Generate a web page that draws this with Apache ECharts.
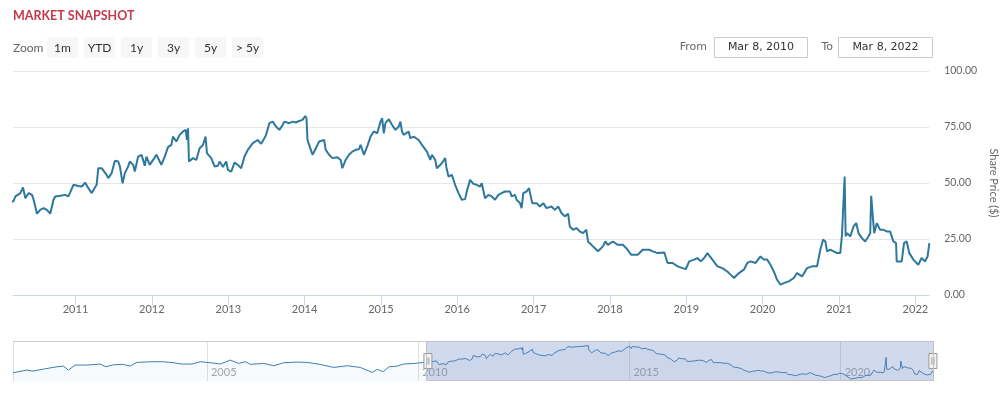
<!DOCTYPE html>
<html>
<head>
<meta charset="UTF-8">
<title>market snapshot</title>
<script src="https://cdn.jsdelivr.net/npm/echarts@6/dist/echarts.min.js"></script>
<style>
  html, body { margin: 0; padding: 0; background: #fff; }
  #chart { width: 1007px; height: 398px; }
</style>
</head>
<body>
<div id="chart"></div>
<script>
// older history, only visible in the navigator (dates as decimal years)
var histYears = [2000.41, 2000.73, 2000.88, 2001.13, 2001.45, 2001.60, 2001.72, 2001.88, 2002.16, 2002.47,
  2002.61, 2002.79, 2003.02, 2003.18, 2003.34, 2003.66, 2003.97, 2004.21, 2004.41, 2004.64,
  2004.84, 2005.08, 2005.32, 2005.55, 2005.75, 2005.91, 2006.03, 2006.34, 2006.58, 2006.82,
  2007.13, 2007.37, 2007.68, 2008.00, 2008.32, 2008.63, 2008.91, 2009.03, 2009.17, 2009.31,
  2009.50, 2009.65, 2009.92, 2010.12];
var histPrices = [18.3, 24.3, 22.0, 26.5, 31.7, 33.2, 24.3, 35.5, 35.5, 37.7,
  31.7, 36.2, 37.0, 33.2, 41.4, 42.9, 42.9, 40.7, 37.7, 37.7,
  42.9, 40.7, 37.7, 46.6, 39.2, 42.9, 37.0, 39.2, 34.0, 40.7,
  42.1, 41.4, 37.0, 30.2, 34.0, 30.2, 19.2, 25.9, 20.7, 31.7,
  33.2, 37.7, 39.2, 41.4];

// visible window Mar 2010 - Mar 2022
var years = [2010.186, 2010.212, 2010.277, 2010.312, 2010.343, 2010.386, 2010.430, 2010.451, 2010.495, 2010.538,
  2010.582, 2010.625, 2010.669, 2010.712, 2010.734, 2010.799, 2010.864, 2010.908, 2010.973, 2011.038,
  2011.082, 2011.125, 2011.169, 2011.212, 2011.277, 2011.299, 2011.343, 2011.408, 2011.430, 2011.473,
  2011.517, 2011.560, 2011.582, 2011.617, 2011.647, 2011.690, 2011.712, 2011.756, 2011.777, 2011.821,
  2011.864, 2011.886, 2011.908, 2011.930, 2011.973, 2012.017, 2012.060, 2012.104, 2012.125, 2012.169,
  2012.212, 2012.256, 2012.277, 2012.321, 2012.364, 2012.408, 2012.443, 2012.460, 2012.473, 2012.486,
  2012.538, 2012.582, 2012.625, 2012.669, 2012.703, 2012.721, 2012.777, 2012.821, 2012.864, 2012.886,
  2012.930, 2012.973, 2012.995, 2013.038, 2013.082, 2013.125, 2013.169, 2013.212, 2013.256, 2013.321,
  2013.386, 2013.430, 2013.473, 2013.495, 2013.538, 2013.582, 2013.625, 2013.669, 2013.712, 2013.734,
  2013.799, 2013.843, 2013.886, 2013.930, 2013.973, 2014.008, 2014.025, 2014.038, 2014.082, 2014.104,
  2014.147, 2014.191, 2014.256, 2014.277, 2014.321, 2014.364, 2014.430, 2014.473, 2014.495, 2014.538,
  2014.582, 2014.625, 2014.669, 2014.712, 2014.734, 2014.777, 2014.821, 2014.864, 2014.908, 2014.951,
  2014.995, 2015.017, 2015.038, 2015.060, 2015.104, 2015.147, 2015.191, 2015.234, 2015.256, 2015.277,
  2015.299, 2015.364, 2015.386, 2015.430, 2015.495, 2015.538, 2015.560, 2015.603, 2015.647, 2015.669,
  2015.712, 2015.734, 2015.799, 2015.843, 2015.856, 2015.886, 2015.930, 2015.973, 2016.017, 2016.060,
  2016.104, 2016.125, 2016.169, 2016.212, 2016.256, 2016.299, 2016.321, 2016.364, 2016.408, 2016.451,
  2016.495, 2016.538, 2016.581, 2016.625, 2016.690, 2016.712, 2016.755, 2016.777, 2016.821, 2016.842,
  2016.864, 2016.908, 2016.938, 2016.964, 2016.981, 2017.038, 2017.081, 2017.125, 2017.168, 2017.234,
  2017.277, 2017.321, 2017.364, 2017.408, 2017.451, 2017.473, 2017.516, 2017.560, 2017.603, 2017.647,
  2017.690, 2017.712, 2017.777, 2017.842, 2017.908, 2017.938, 2017.973, 2018.038, 2018.103, 2018.168,
  2018.212, 2018.277, 2018.364, 2018.429, 2018.516, 2018.560, 2018.625, 2018.712, 2018.734, 2018.755,
  2018.821, 2018.886, 2018.951, 2018.995, 2019.038, 2019.103, 2019.147, 2019.190, 2019.234, 2019.277,
  2019.342, 2019.408, 2019.473, 2019.538, 2019.581, 2019.625, 2019.690, 2019.755, 2019.799, 2019.842,
  2019.908, 2019.973, 2020.016, 2020.060, 2020.103, 2020.147, 2020.190, 2020.234, 2020.277, 2020.342,
  2020.408, 2020.451, 2020.516, 2020.581, 2020.647, 2020.712, 2020.755, 2020.790, 2020.821, 2020.842,
  2020.886, 2020.929, 2020.973, 2021.016, 2021.038, 2021.060, 2021.073, 2021.086, 2021.103, 2021.147,
  2021.190, 2021.225, 2021.255, 2021.299, 2021.342, 2021.386, 2021.408, 2021.421, 2021.442, 2021.460,
  2021.495, 2021.538, 2021.581, 2021.625, 2021.668, 2021.712, 2021.747, 2021.755, 2021.821, 2021.851,
  2021.886, 2021.921, 2021.973, 2022.038, 2022.081, 2022.125, 2022.160, 2022.183];
var prices = [41.8, 44.0, 45.5, 48.0, 43.2, 45.5, 44.7, 42.5, 36.3, 38.0,
  38.8, 38.0, 36.3, 42.5, 44.0, 44.3, 44.7, 44.0, 49.2, 48.7,
  48.4, 50.2, 47.7, 45.5, 49.2, 56.6, 56.6, 53.6, 52.2, 54.4,
  59.9, 59.6, 57.4, 49.9, 54.4, 57.4, 59.6, 58.1, 55.1, 61.8,
  62.6, 60.3, 57.7, 61.8, 58.1, 60.3, 62.6, 59.6, 58.1, 61.8,
  66.0, 67.0, 70.7, 68.5, 71.5, 73.0, 73.7, 69.2, 74.4, 59.6,
  61.1, 60.3, 65.5, 67.0, 70.7, 63.3, 61.1, 57.4, 57.7, 59.6,
  57.1, 59.6, 55.9, 55.1, 59.1, 58.1, 56.6, 61.8, 64.8, 67.8,
  69.2, 67.5, 70.0, 71.5, 76.7, 77.4, 75.2, 73.7, 75.9, 77.4,
  76.7, 77.4, 77.0, 77.7, 78.2, 79.9, 78.9, 69.2, 64.8, 62.6,
  65.5, 68.5, 69.2, 64.8, 62.6, 61.1, 61.5, 60.3, 56.6, 60.3,
  62.6, 64.0, 64.8, 65.1, 67.0, 62.6, 66.3, 70.7, 73.0, 72.2,
  77.4, 78.9, 72.2, 76.7, 78.5, 75.9, 73.7, 75.2, 77.4, 73.0,
  71.5, 73.0, 70.0, 70.7, 69.2, 67.0, 67.8, 64.0, 60.3, 62.6,
  60.3, 56.6, 58.8, 61.1, 57.4, 52.9, 53.6, 49.2, 45.5, 42.5,
  42.8, 46.2, 51.4, 49.6, 49.2, 48.4, 49.9, 43.2, 44.7, 44.0,
  42.5, 44.7, 45.5, 46.2, 46.2, 44.0, 44.7, 42.5, 41.0, 38.8,
  45.5, 46.2, 47.7, 47.0, 41.0, 41.0, 39.5, 41.0, 38.8, 39.5,
  38.0, 39.5, 36.6, 35.1, 36.3, 30.6, 29.1, 29.9, 28.4, 27.6,
  29.1, 23.9, 21.7, 19.5, 21.7, 23.9, 22.4, 23.9, 22.4, 22.4,
  21.0, 18.0, 18.0, 20.2, 20.2, 19.5, 18.7, 19.0, 18.7, 14.3,
  14.3, 12.8, 12.0, 11.6, 15.0, 15.8, 16.5, 15.0, 16.5, 18.7,
  15.8, 12.8, 12.0, 10.5, 9.1, 7.6, 9.8, 11.3, 14.3, 15.0,
  14.3, 17.2, 15.8, 15.8, 13.5, 10.5, 6.8, 4.6, 5.3, 6.1,
  7.6, 9.8, 8.3, 12.0, 12.8, 12.8, 20.2, 24.7, 23.9, 19.5,
  20.2, 19.5, 18.7, 18.7, 26.9, 27.6, 52.9, 26.2, 27.6, 26.2,
  30.6, 32.1, 27.6, 25.4, 23.9, 26.2, 27.6, 44.3, 35.1, 27.6,
  32.1, 29.1, 29.1, 28.4, 28.4, 23.9, 23.2, 15.0, 15.0, 23.2,
  23.9, 18.7, 15.8, 13.5, 16.5, 15.0, 17.2, 23.2];

var priceTicks = [0, 25, 50, 75, 100];
var zoomButtons = ['1m', 'YTD', '1y', '3y', '5y', '> 5y'];
var fromLabel = 'Mar 8, 2010';
var toLabel = 'Mar 8, 2022';
var windowStart = Date.UTC(2010, 2, 8);
var windowEnd = Date.UTC(2022, 2, 8);

function toTime(y) {
  var yr = Math.floor(y);
  var t0 = Date.UTC(yr, 0, 1), t1 = Date.UTC(yr + 1, 0, 1);
  return t0 + (y - yr) * (t1 - t0);
}
function yearLabel(v) { return String(new Date(v).getUTCFullYear()); }

var allYears = histYears.concat(years);
var allPrices = histPrices.concat(prices);
var seriesData = [];
for (var i = 0; i < allYears.length; i++) {
  seriesData.push([toTime(allYears[i]), allPrices[i]]);
}

// range selector row
var graphics = [];
graphics.push({ type: 'text', x: 13, y: 48, style: { text: 'Zoom', fill: '#666', font: '12px Lato', verticalAlign: 'middle' } });
for (var b = 0; b < zoomButtons.length; b++) {
  var bx = 47 + b * 37;
  graphics.push({ type: 'rect', shape: { x: bx, y: 37, width: 31, height: 21, r: 2 }, style: { fill: '#f7f7f7' } });
  graphics.push({ type: 'text', x: bx + 15.5, y: 48, style: { text: zoomButtons[b], fill: '#333', font: '12px Lato', align: 'center', verticalAlign: 'middle' } });
}
graphics.push({ type: 'text', x: 707, y: 47, style: { text: 'From', fill: '#666', font: '11px "DejaVu Sans"', align: 'right', verticalAlign: 'middle' } });
graphics.push({ type: 'rect', shape: { x: 714.5, y: 37.5, width: 93, height: 20 }, style: { fill: '#fff', stroke: '#cccccc', lineWidth: 1 } });
graphics.push({ type: 'text', x: 761, y: 47.5, style: { text: fromLabel, fill: '#333', font: '11px "DejaVu Sans"', align: 'center', verticalAlign: 'middle' } });
graphics.push({ type: 'text', x: 833, y: 47, style: { text: 'To', fill: '#666', font: '11px "DejaVu Sans"', align: 'right', verticalAlign: 'middle' } });
graphics.push({ type: 'rect', shape: { x: 838.5, y: 37.5, width: 94, height: 20 }, style: { fill: '#fff', stroke: '#cccccc', lineWidth: 1 } });
graphics.push({ type: 'text', x: 885.5, y: 47.5, style: { text: toLabel, fill: '#333', font: '11px "DejaVu Sans"', align: 'center', verticalAlign: 'middle' } });
graphics.push({ type: 'line', z: 100, shape: { x1: 13, y1: 341.5, x2: 933, y2: 341.5 }, style: { stroke: '#cccccc', lineWidth: 1 } });

var ONE_YEAR = 365 * 24 * 3600 * 1000;

var option = {
  animation: false,
  useUTC: true,
  backgroundColor: '#fff',
  textStyle: { fontFamily: 'Lato' },
  title: {
    text: 'MARKET SNAPSHOT',
    left: 13, top: 9, padding: 0,
    textStyle: { color: '#c23a4b', fontSize: 12.5, fontWeight: 'bold', fontFamily: 'Lato' }
  },
  graphic: graphics,
  grid: [
    { left: 13, right: 74, top: 71, height: 224 },
    { left: 13, right: 74, top: 341, height: 40 }
  ],
  xAxis: [
    {
      type: 'time', gridIndex: 0,
      minInterval: ONE_YEAR, maxInterval: ONE_YEAR * 1.02,
      axisLine: { lineStyle: { color: '#ccd6eb' } },
      axisTick: { length: 10, lineStyle: { color: '#ccd6eb' } },
      axisLabel: {
        color: '#666', fontSize: 11, margin: 9,
        showMinLabel: false, showMaxLabel: false,
        formatter: yearLabel
      },
      splitLine: { show: false }
    },
    {
      type: 'time', gridIndex: 1, min: 'dataMin', max: 'dataMax',
      minInterval: ONE_YEAR * 5, maxInterval: ONE_YEAR * 5.1,
      axisLine: { show: false },
      axisTick: { show: false },
      axisLabel: {
        inside: true, color: '#a6a6a6', fontSize: 11, margin: 3, align: 'left', padding: [0, 0, 0, 4],
        showMinLabel: false, showMaxLabel: false,
        formatter: yearLabel
      },
      splitLine: { show: true, lineStyle: { color: '#e0e0e0' } }
    }
  ],
  yAxis: [
    {
      type: 'value', gridIndex: 0, position: 'right',
      min: priceTicks[0], max: priceTicks[priceTicks.length - 1], interval: 25,
      name: 'Share Price ($)', nameLocation: 'middle', nameRotate: -90, nameGap: 56,
      nameTextStyle: { color: '#666', fontSize: 11 },
      axisLine: { show: false }, axisTick: { show: false },
      axisLabel: { color: '#666', fontSize: 10.5, margin: 15, formatter: function (v) { return v.toFixed(2); } },
      splitLine: { lineStyle: { color: '#e6e6e6' } }
    },
    { type: 'value', gridIndex: 1, min: 0, max: 89, show: false }
  ],
  dataZoom: [{
    type: 'slider', xAxisIndex: 0, filterMode: 'none',
    left: 13, right: 74, top: 341, height: 40,
    startValue: windowStart, endValue: windowEnd,
    showDataShadow: false, showDetail: false, brushSelect: false,
    backgroundColor: 'transparent', borderColor: 'transparent',
    fillerColor: 'rgba(102,133,194,0.3)',
    moveHandleSize: 0,
    handleIcon: 'path://M0,0 H8 V15 H0 Z M3,4 V11 M5,4 V11',
    handleSize: 15,
    handleStyle: { color: '#f2f2f2', borderColor: '#999999', borderWidth: 1 }
  }],
  series: [
    {
      type: 'line', xAxisIndex: 0, yAxisIndex: 0,
      data: seriesData, showSymbol: false, symbol: 'none',
      lineStyle: { color: '#2e789e', width: 2 },
      itemStyle: { color: '#2e789e' }
    },
    {
      type: 'line', xAxisIndex: 1, yAxisIndex: 1,
      data: seriesData, showSymbol: false, symbol: 'none', silent: true,
      lineStyle: { color: '#3d80b2', width: 1 },
      areaStyle: { color: 'rgba(80,130,190,0.06)' }
    }
  ]
};

var myChart = echarts.init(document.getElementById('chart'));
myChart.setOption(option);

// outline of the selected window in the navigator
var x0 = myChart.convertToPixel({ xAxisIndex: 1 }, windowStart);
var x1 = myChart.convertToPixel({ xAxisIndex: 1 }, Math.min(windowEnd, seriesData[seriesData.length - 1][0]));
graphics.push({ type: 'rect', z: 100, shape: { x: Math.round(x0) + 0.5, y: 341.5, width: Math.round(x1 - x0), height: 39 }, style: { fill: 'none', stroke: '#c2c2c2', lineWidth: 1 } });
myChart.setOption({ graphic: graphics });
</script>
</body>
</html>
